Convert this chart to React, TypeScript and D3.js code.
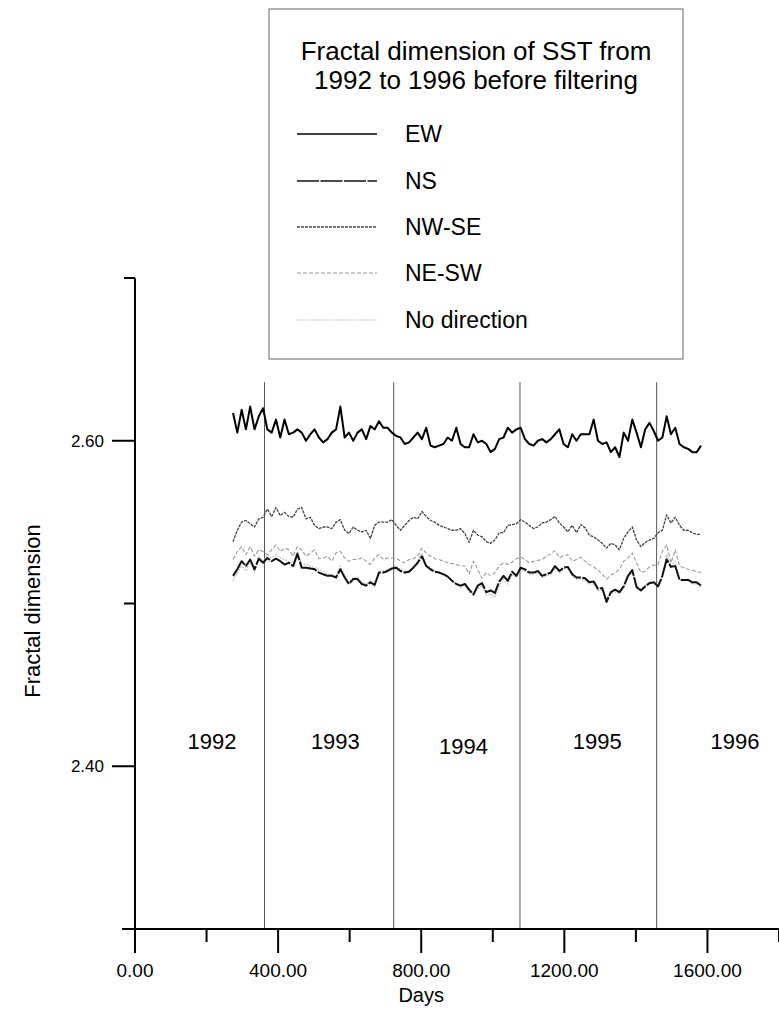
import React from 'react';
import * as d3 from 'd3';

// sampled days (x grid)
const days = [
  274, 286, 298, 310, 322, 334, 346, 358, 370, 382, 394, 406, 418, 430, 442, 454, 466, 478, 490, 502,
  514, 526, 538, 550, 562, 574, 586, 598, 610, 622, 634, 646, 658, 670, 682, 694, 706, 718, 730, 742,
  754, 766, 778, 790, 802, 814, 826, 838, 850, 862, 874, 886, 898, 910, 922, 934, 946, 958, 970, 982,
  994, 1006, 1018, 1030, 1042, 1054, 1066, 1078, 1090, 1102, 1114, 1126, 1138, 1150, 1162, 1174, 1186, 1198, 1210, 1222,
  1234, 1246, 1258, 1270, 1282, 1294, 1306, 1318, 1330, 1342, 1354, 1366, 1378, 1390, 1402, 1414, 1426, 1438, 1450, 1462,
  1474, 1486, 1498, 1510, 1522, 1534, 1546, 1558, 1570, 1582,
];

const ew = [
  2.617, 2.605, 2.619, 2.607, 2.621, 2.607, 2.615, 2.62, 2.607, 2.605, 2.613, 2.602, 2.613, 2.604, 2.605, 2.607, 2.605, 2.6, 2.604, 2.607,
  2.602, 2.599, 2.601, 2.605, 2.607, 2.621, 2.602, 2.605, 2.6, 2.605, 2.607, 2.601, 2.609, 2.607, 2.612, 2.608, 2.608, 2.605, 2.603, 2.602,
  2.598, 2.599, 2.602, 2.605, 2.601, 2.608, 2.597, 2.596, 2.597, 2.598, 2.602, 2.6, 2.608, 2.598, 2.596, 2.596, 2.604, 2.599, 2.6, 2.598,
  2.593, 2.595, 2.601, 2.602, 2.608, 2.605, 2.607, 2.608, 2.601, 2.598, 2.597, 2.6, 2.601, 2.599, 2.601, 2.604, 2.607, 2.598, 2.596, 2.604,
  2.6, 2.604, 2.604, 2.604, 2.613, 2.6, 2.598, 2.599, 2.593, 2.596, 2.59, 2.605, 2.6, 2.613, 2.605, 2.596, 2.607, 2.611, 2.606, 2.6,
  2.602, 2.615, 2.604, 2.608, 2.598, 2.596, 2.595, 2.593, 2.593, 2.597,
];

const ns = [
  2.517, 2.521, 2.526, 2.523, 2.527, 2.521, 2.5275, 2.525, 2.528, 2.526, 2.5275, 2.526, 2.524, 2.525, 2.523, 2.5305, 2.522, 2.522, 2.5215, 2.521,
  2.519, 2.518, 2.517, 2.517, 2.516, 2.521, 2.516, 2.512, 2.515, 2.515, 2.512, 2.511, 2.513, 2.5115, 2.519, 2.519, 2.52, 2.5215, 2.522, 2.52,
  2.519, 2.5195, 2.522, 2.525, 2.529, 2.523, 2.521, 2.5195, 2.519, 2.518, 2.5165, 2.514, 2.512, 2.511, 2.512, 2.5085, 2.5055, 2.511, 2.5125, 2.507,
  2.508, 2.5065, 2.5135, 2.517, 2.514, 2.5195, 2.517, 2.522, 2.521, 2.519, 2.519, 2.52, 2.517, 2.518, 2.519, 2.523, 2.52, 2.522, 2.5225, 2.518,
  2.516, 2.516, 2.5155, 2.513, 2.5135, 2.509, 2.5095, 2.501, 2.507, 2.5085, 2.507, 2.5105, 2.517, 2.5205, 2.51, 2.508, 2.5105, 2.5125, 2.513, 2.5105,
  2.517, 2.527, 2.5225, 2.523, 2.5145, 2.5145, 2.5145, 2.513, 2.513, 2.511,
];

const nwse = [
  2.538, 2.545, 2.55, 2.551, 2.549, 2.547, 2.552, 2.553, 2.558, 2.5535, 2.559, 2.554, 2.556, 2.5535, 2.553, 2.558, 2.559, 2.552, 2.553, 2.548,
  2.546, 2.547, 2.547, 2.546, 2.55, 2.5515, 2.545, 2.543, 2.547, 2.545, 2.544, 2.545, 2.54, 2.548, 2.55, 2.55, 2.55, 2.5515, 2.548, 2.545,
  2.548, 2.551, 2.553, 2.552, 2.5565, 2.5535, 2.551, 2.55, 2.548, 2.547, 2.546, 2.545, 2.545, 2.546, 2.543, 2.5375, 2.545, 2.542, 2.541, 2.538,
  2.537, 2.539, 2.5435, 2.5435, 2.548, 2.5485, 2.549, 2.5515, 2.55, 2.548, 2.546, 2.547, 2.5495, 2.55, 2.5515, 2.5535, 2.5495, 2.547, 2.544, 2.548,
  2.5435, 2.5485, 2.5465, 2.542, 2.541, 2.539, 2.537, 2.534, 2.537, 2.536, 2.533, 2.54, 2.544, 2.547, 2.539, 2.535, 2.5375, 2.539, 2.54, 2.5435,
  2.545, 2.5545, 2.5495, 2.553, 2.548, 2.545, 2.545, 2.5435, 2.5425, 2.5425,
];

const nesw = [
  2.527, 2.532, 2.535, 2.53, 2.535, 2.529, 2.533, 2.532, 2.53, 2.533, 2.536, 2.532, 2.534, 2.533, 2.529, 2.535, 2.533, 2.529, 2.531, 2.533,
  2.5275, 2.528, 2.529, 2.526, 2.531, 2.532, 2.528, 2.526, 2.527, 2.527, 2.528, 2.526, 2.524, 2.528, 2.53, 2.527, 2.528, 2.528, 2.528, 2.526,
  2.525, 2.527, 2.5275, 2.529, 2.534, 2.531, 2.529, 2.5275, 2.527, 2.526, 2.525, 2.5245, 2.524, 2.523, 2.523, 2.518, 2.526, 2.521, 2.5155, 2.519,
  2.517, 2.519, 2.523, 2.525, 2.524, 2.5255, 2.5275, 2.5285, 2.527, 2.525, 2.526, 2.5265, 2.527, 2.529, 2.5305, 2.5325, 2.528, 2.5295, 2.53, 2.526,
  2.527, 2.5285, 2.526, 2.524, 2.5225, 2.5205, 2.518, 2.515, 2.5175, 2.519, 2.521, 2.526, 2.528, 2.531, 2.525, 2.519, 2.52, 2.5225, 2.5235, 2.524,
  2.532, 2.536, 2.525, 2.533, 2.523, 2.522, 2.521, 2.5205, 2.5195, 2.519,
];

const noDir = [
  2.514, 2.519, 2.523, 2.52, 2.526, 2.519, 2.529, 2.526, 2.53, 2.528, 2.53, 2.528, 2.527, 2.526, 2.525, 2.532, 2.524, 2.524, 2.523, 2.522,
  2.521, 2.52, 2.518, 2.518, 2.517, 2.523, 2.517, 2.513, 2.516, 2.516, 2.513, 2.512, 2.514, 2.51, 2.52, 2.52, 2.521, 2.522, 2.523, 2.521,
  2.52, 2.52, 2.523, 2.526, 2.531, 2.524, 2.522, 2.52, 2.5195, 2.518, 2.517, 2.514, 2.512, 2.51, 2.511, 2.507, 2.506, 2.509, 2.511, 2.505,
  2.506, 2.504, 2.511, 2.515, 2.512, 2.518, 2.516, 2.521, 2.52, 2.518, 2.518, 2.519, 2.516, 2.517, 2.518, 2.522, 2.519, 2.521, 2.522, 2.517,
  2.515, 2.515, 2.514, 2.512, 2.512, 2.508, 2.508, 2.503, 2.506, 2.507, 2.506, 2.51, 2.516, 2.519, 2.511, 2.509, 2.511, 2.513, 2.513, 2.511,
  2.517, 2.53, 2.523, 2.526, 2.515, 2.514, 2.515, 2.512, 2.512, 2.51,
];

const seriesNames = ['EW', 'NS', 'NW-SE', 'NE-SW', 'No direction'];
const yearLabels = ['1992', '1993', '1994', '1995', '1996'];
const yearLabelDays = [215, 560, 918, 1292, 1677];
const yearSeparators = [362, 723, 1076, 1458];
const xMajorTicks = [0, 400, 800, 1200, 1600];
const xMinorTicks = [200, 600, 1000, 1400, 1800];
const yMajorTicks = [2.4, 2.6];
const yMinorTicks = [2.5, 2.7];

const FONT = '"Liberation Sans", Arial, Helvetica, sans-serif';

const styles = [
  { stroke: '#000', width: 2, dash: 'none' },
  { stroke: '#111', width: 2, dash: '22,1.5' },
  { stroke: '#444', width: 1.3, dash: '3,1' },
  { stroke: '#999', width: 1.1, dash: '4,2' },
  { stroke: '#aaa', width: 1.1, dash: '1.5,1.5' },
];

const App = () => {
  const x = d3.scaleLinear().domain([0, 1800]).range([135, 779]);
  const y = d3.scaleLinear().domain([2.3, 2.7]).range([929, 278]);

  const all = [ew, ns, nwse, nesw, noDir];
  const line = d3
    .line<number>()
    .x((_, i) => x(days[i]))
    .y((d) => y(d));

  // light lines first, bold ones on top
  const order = [4, 3, 2, 1, 0];

  const legendRows = [134, 181, 227, 273, 320];

  return (
    <svg
      width={779}
      height={1013}
      style={{ position: 'absolute', left: 0, top: 0, background: '#fff' }}
      fontFamily={FONT}
    >
      {/* year separators */}
      {yearSeparators.map((d) => (
        <line key={d} x1={x(d)} x2={x(d)} y1={y(2.636)} y2={y(2.3)} stroke="#555" strokeWidth={1} />
      ))}

      {/* series */}
      {order.map((i) => (
        <path
          key={seriesNames[i]}
          d={line(all[i]) || ''}
          fill="none"
          stroke={styles[i].stroke}
          strokeWidth={styles[i].width}
          strokeDasharray={styles[i].dash}
          strokeLinejoin="round"
        />
      ))}

      {/* y axis */}
      <line x1={x(0)} x2={x(0)} y1={y(2.7)} y2={y(2.3)} stroke="#000" strokeWidth={2} />
      {yMajorTicks.map((t) => (
        <g key={t}>
          <line x1={x(0) - 23} x2={x(0)} y1={y(t)} y2={y(t)} stroke="#000" strokeWidth={2} />
          <text x={104} y={y(t) + 6} textAnchor="end" fontSize={17}>
            {t.toFixed(2)}
          </text>
        </g>
      ))}
      {yMinorTicks.map((t) => (
        <line key={t} x1={x(0) - 11} x2={x(0)} y1={y(t)} y2={y(t)} stroke="#000" strokeWidth={2} />
      ))}
      <text transform={`translate(40,611) rotate(-90)`} textAnchor="middle" fontSize={22}>
        Fractal dimension
      </text>

      {/* x axis */}
      <line x1={122} x2={779} y1={y(2.3)} y2={y(2.3)} stroke="#000" strokeWidth={2} />
      {xMajorTicks.map((t) => (
        <g key={t}>
          <line x1={x(t)} x2={x(t)} y1={y(2.3)} y2={y(2.3) + 24} stroke="#000" strokeWidth={2} />
          <text x={x(t)} y={977} textAnchor="middle" fontSize={19}>
            {t.toFixed(2)}
          </text>
        </g>
      ))}
      {xMinorTicks.map((t) => (
        <line key={t} x1={x(t)} x2={x(t)} y1={y(2.3)} y2={y(2.3) + 13} stroke="#000" strokeWidth={2} />
      ))}
      <text x={x(800)} y={1002} textAnchor="middle" fontSize={20}>
        Days
      </text>

      {/* year labels */}
      {yearLabels.map((lab, i) => (
        <text key={lab} x={x(yearLabelDays[i])} y={lab === '1994' ? 754 : 749} textAnchor="middle" fontSize={22}>
          {lab}
        </text>
      ))}

      {/* legend */}
      <rect x={269} y={9} width={414} height={350} fill="#fff" stroke="#666" strokeWidth={1} />
      <text x={476} y={60} textAnchor="middle" fontSize={26}>
        Fractal dimension of SST from
      </text>
      <text x={476} y={89} textAnchor="middle" fontSize={26}>
        1992 to 1996 before filtering
      </text>
      {seriesNames.map((name, i) => (
        <g key={name}>
          <line
            x1={297}
            x2={377}
            y1={legendRows[i]}
            y2={legendRows[i]}
            stroke={styles[i].stroke}
            strokeWidth={Math.min(styles[i].width, 1.5)}
            strokeDasharray={styles[i].dash}
          />
          <text x={405} y={legendRows[i] + 8} fontSize={23}>
            {name}
          </text>
        </g>
      ))}
    </svg>
  );
};

export default App;
